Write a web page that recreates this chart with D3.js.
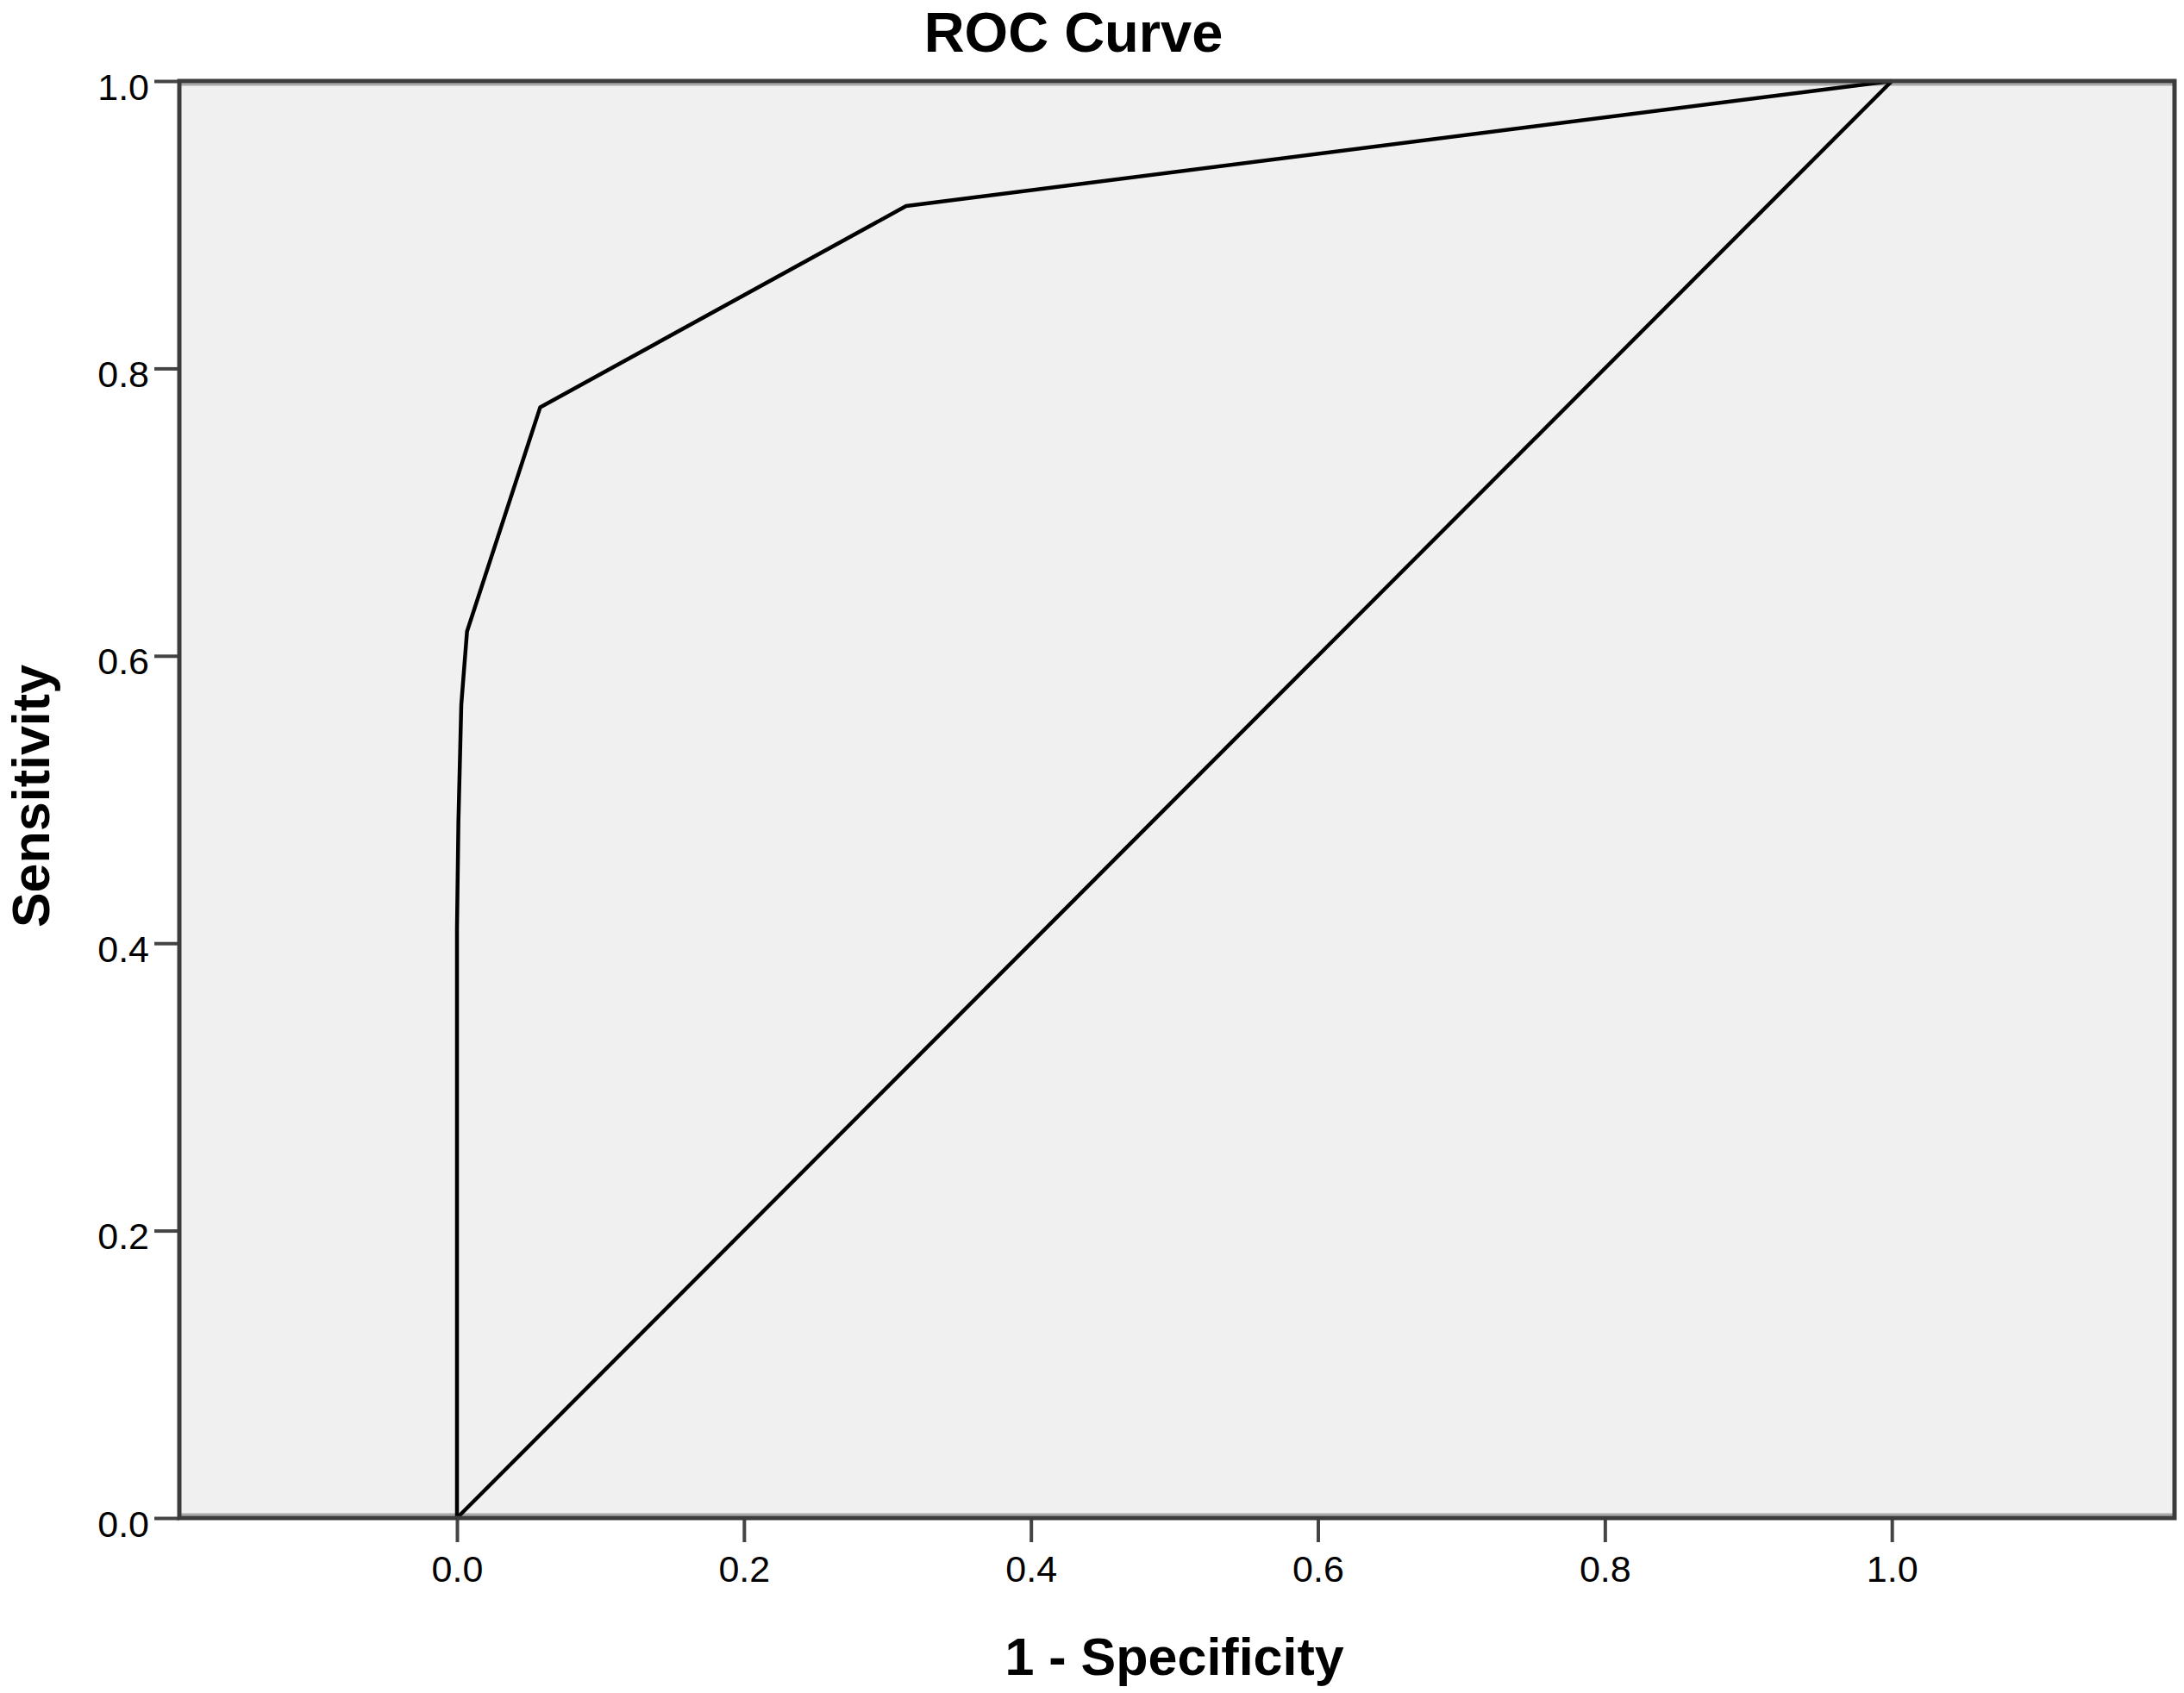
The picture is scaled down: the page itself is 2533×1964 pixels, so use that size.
<!DOCTYPE html>
<html>
<head>
<meta charset="utf-8">
<script src="https://cdn.jsdelivr.net/npm/d3@7"></script>
<style>
  body { margin: 0; background: #fff; }
  text { font-family: "Liberation Sans", Arial, sans-serif; fill: #000; }
</style>
</head>
<body>
<svg id="chart"></svg>
<script>
// ROC curve points (1 - specificity, sensitivity)
const fpr = [0, 0, 0.001, 0.003, 0.007, 0.058, 0.313, 1];
const tpr = [0, 0.41, 0.485, 0.566, 0.617, 0.773, 0.913, 1];

// reference diagonal
const refX = [0, 1];
const refY = [0, 1];

const tickValues = [0, 0.2, 0.4, 0.6, 0.8, 1.0];
const xExtent = [-0.1935, 1.197];
const yExtent = [0, 1];

const width = 2533, height = 1964;
const plot = { left: 208, right: 2522, top: 94, bottom: 1761 };

const svg = d3.select("#chart")
    .attr("width", width)
    .attr("height", height);

const x = d3.scaleLinear().domain(xExtent).range([plot.left, plot.right]);
const y = d3.scaleLinear().domain(yExtent).range([plot.bottom, plot.top]);

// plot background
svg.append("rect")
    .attr("x", plot.left)
    .attr("y", plot.top)
    .attr("width", plot.right - plot.left)
    .attr("height", plot.bottom - plot.top)
    .attr("fill", "#f0f0f0");

// light inner edge lines at top and bottom, like the original
svg.append("line")
    .attr("x1", plot.left).attr("x2", plot.right)
    .attr("y1", plot.top + 4).attr("y2", plot.top + 4)
    .attr("stroke", "#a8a8a8").attr("stroke-width", 3);
svg.append("line")
    .attr("x1", plot.left).attr("x2", plot.right)
    .attr("y1", plot.bottom - 4).attr("y2", plot.bottom - 4)
    .attr("stroke", "#a8a8a8").attr("stroke-width", 3);

// axes
const fmt = d3.format(".1f");

const yAxis = svg.append("g")
    .attr("transform", "translate(" + plot.left + ",0)")
    .call(d3.axisLeft(y).tickValues(tickValues).tickFormat(fmt).tickSize(29).tickPadding(6));

const xAxis = svg.append("g")
    .attr("transform", "translate(0," + plot.bottom + ")")
    .call(d3.axisBottom(x).tickValues(tickValues).tickFormat(fmt).tickSize(28).tickPadding(15.5));

[yAxis, xAxis].forEach(function(g) {
    g.select(".domain").remove();
    g.selectAll(".tick line")
        .attr("stroke", "#444")
        .attr("stroke-width", 4);
    g.selectAll(".tick text")
        .attr("font-size", "43px")
        .attr("fill", "#000");
});
yAxis.selectAll(".tick text").attr("dy", "0.49em");

// ROC curve and diagonal
const line = d3.line()
    .x(function(d) { return x(d[0]); })
    .y(function(d) { return y(d[1]); });

svg.append("path")
    .datum(d3.zip(refX, refY))
    .attr("d", line)
    .attr("fill", "none")
    .attr("stroke", "#000")
    .attr("stroke-width", 4.5);

svg.append("path")
    .datum(d3.zip(fpr, tpr))
    .attr("d", line)
    .attr("fill", "none")
    .attr("stroke", "#000")
    .attr("stroke-width", 4.5)
    .attr("stroke-linejoin", "round");

// frame
svg.append("rect")
    .attr("x", plot.left)
    .attr("y", plot.top)
    .attr("width", plot.right - plot.left)
    .attr("height", plot.bottom - plot.top)
    .attr("fill", "none")
    .attr("stroke", "#3c3c3c")
    .attr("stroke-width", 5);

// titles
svg.append("text")
    .attr("x", 1245)
    .attr("y", 60)
    .attr("text-anchor", "middle")
    .attr("font-size", "65px")
    .attr("font-weight", "bold")
    .text("ROC Curve");

svg.append("text")
    .attr("x", (x(0) + x(1)) / 2)
    .attr("y", 1943)
    .attr("text-anchor", "middle")
    .attr("font-size", "61px")
    .attr("font-weight", "bold")
    .text("1 - Specificity");

svg.append("text")
    .attr("transform", "translate(57," + ((plot.top + plot.bottom) / 2 - 4) + ") rotate(-90)")
    .attr("text-anchor", "middle")
    .attr("font-size", "61px")
    .attr("font-weight", "bold")
    .text("Sensitivity");
</script>
</body>
</html>
